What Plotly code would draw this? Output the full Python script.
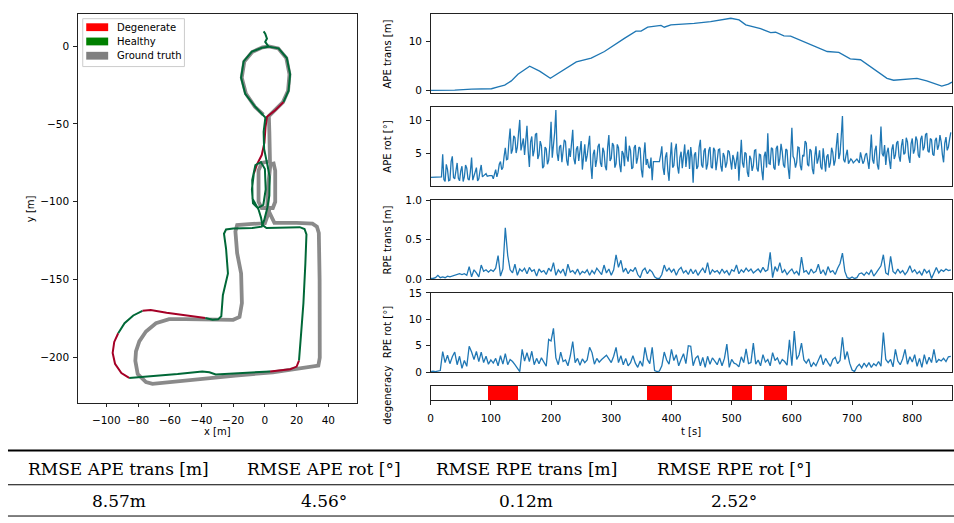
import plotly.graph_objects as go

W, H = 954, 523

# ---------------- trajectory in the x-y plane [m] ----------------
# ground truth route (starts at the neck below the upper loop)
gt_x = [-1.0, -6.3, -12.0, -14.6, -13.0, -8.0, -1.5, 2.5, 8.4, 13.5, 15.5, 14.6, 11.4,
        6.5, 2.5, 2.8, 3.0, 3.2,
        -2.0, -4.0, -4.0, -2.0, 5.0, 6.5, 6.5, 5.5, 3.5, 2.0, 1.5, 4.0, 6.0,
        20.0, 30.0, 32.8, 34.0, 34.5, 34.8, 34.6, 33.7,
        19.0, 5.0, -18.6, -39.5, -60.0, -70.9, -75.0, -80.2, -81.7, -81.3,
        -79.2, -75.0, -68.7, -60.4, -50.0, -35.0, -20.0, -16.0, -14.5, -15.0,
        -17.5, -18.6, -17.5, -10.0, 0.0, 2.0, 3.0]
gt_y = [-44.0, -39.0, -30.5, -20.3, -10.0, -3.8, -0.8, -0.2, -1.5, -7.7, -18.2, -28.7, -36.0,
        -41.0, -45.0, -55.0, -65.0, -74.0,
        -75.0, -80.0, -100.0, -104.0, -104.0, -100.0, -80.0, -75.5, -76.0, -90.0, -104.0, -110.0, -113.5,
        -113.6, -114.0, -116.0, -120.0, -150.0, -180.0, -200.0, -205.2,
        -207.4, -209.5, -211.6, -213.7, -215.8, -216.9, -215.8, -210.6, -202.2, -196.0,
        -189.6, -183.3, -178.0, -175.4, -175.4, -175.3, -175.8, -174.0, -165.0, -146.0,
        -133.0, -119.0, -115.0, -114.3, -113.8, -108.0, -104.0]

# estimated route; state of the segment leaving each vertex (H healthy, D degenerate)
est_x = [-0.8, 0.2, 1.3, 0.2, 2.3, 8.6, 13.8, 15.9, 14.9, 11.7, 6.5, 1.3, 0.4, -0.3,
         -2.0, -5.0, -7.0, -8.2, -7.5, -4.5, -1.0, 0.5, 0.0, -2.5, -6.0, -8.0, -7.8,
         -4.0, -2.5, -1.5, 1.0, 12.0, 22.0, 25.0, 26.2, 25.5, 24.3, 22.8, 21.5, 20.0,
         16.0, 10.0, 3.3, -10.0, -25.0, -31.0, -35.0, -39.5, -55.0, -70.0, -85.6,
         -90.5, -94.5, -96.0, -95.0, -92.5, -88.5, -83.0, -77.2, -72.0, -62.0, -50.0,
         -37.5, -33.0, -29.5, -27.5, -26.5, -23.3, -24.5, -25.8, -24.5, -20.0, -8.0,
         -2.0, -0.5, 1.5, 2.8, 3.0, 1.5, -0.5, -0.8, 0.3, -6.1, -12.4, -15.0, -13.4,
         -8.2, -1.9, 2.3]
est_y = [9.4, 8.0, 4.8, 2.7, -0.4, -1.5, -7.7, -18.2, -28.7, -36.0, -41.2, -45.4, -52.0,
         -62.0, -70.0, -76.0, -82.0, -92.0, -101.0, -104.0, -102.0, -92.0, -79.0, -74.5,
         -76.5, -86.0, -98.0, -105.0, -110.0, -115.0, -116.8, -116.6, -116.3, -117.5,
         -121.0, -140.0, -165.0, -185.0, -202.0, -205.8, -207.5, -208.3, -208.9, -209.5,
         -210.3, -210.9, -209.5, -208.9, -210.6, -212.0, -213.1, -210.0, -204.0, -197.0,
         -190.0, -184.4, -178.0, -173.0, -170.0, -169.5, -171.2, -172.8, -174.6, -175.8,
         -175.5, -173.5, -160.0, -146.0, -130.0, -120.5, -117.8, -117.2, -116.8, -116.0,
         -112.0, -104.0, -96.0, -84.0, -76.0, -66.0, -55.0, -46.0, -39.0, -30.7, -20.3,
         -9.8, -3.6, -1.1, -0.4]
est_state = ["H", "H", "H", "H", "H", "H", "H", "H", "H", "D", "D", "D", "D", "D",
             "D", "D", "H", "H", "H", "H", "H", "H", "H", "H", "H", "H", "H",
             "H", "H", "H", "H", "H", "H", "H", "H", "H", "H", "H", "D", "D",
             "D", "D", "H", "H", "H", "H", "H", "H", "H", "H", "D",
             "D", "D", "D", "D", "H", "H", "H", "D", "D", "D", "D",
             "H", "H", "H", "H", "H", "H", "H", "H", "H", "H", "H",
             "H", "H", "H", "H", "H", "H", "H", "H", "H", "H", "H", "H", "H",
             "H", "H", "H"]

legend_labels = ["Degenerate", "Healthy", "Ground truth"]
legend_colors = ["#ff0000", "#008000", "#808080"]

# ---------------- errors over time ----------------
ape_trans_t = [0, 40, 68, 101, 112, 123, 134, 145, 164.5, 181, 198.8, 217, 242, 266.7,
               288.7, 321.8, 341, 349.5, 360.5, 382.6, 388, 399, 437.8, 465, 482, 498.6,
               512.3, 523.4, 548, 564.8, 573, 586.8, 598, 620, 658.7, 678, 697, 714, 758,
               769, 807.8, 824, 849, 860, 866]
ape_trans = [0.0, 0.06, 0.26, 0.33, 0.73, 1.07, 1.94, 3.3, 4.96, 3.95, 2.48, 3.95, 5.85,
             6.65, 8.0, 10.7, 12.2, 12.2, 13.0, 13.37, 13.0, 13.5, 13.8, 14.17, 14.58,
             14.85, 14.5, 13.5, 12.7, 11.9, 11.96, 11.2, 11.15, 10.0, 8.0, 7.8, 6.5, 6.3,
             2.48, 2.08, 2.48, 1.94, 0.87, 1.27, 1.7]

ape_rot_dt = 2  # [s] between absolute rotation error samples
ape_rot = [
    1.43, 1.43, 1.43, 1.43, 1.43, 1.43, 1.43, 1.43, 1.43, 1.5, 4.9, 1.1, 0.8, 3.4, 2.6, 0.9, 1.0, 3.8, 4.6, 1.4,
    1.2, 2.9, 3.6, 1.3, 0.9, 2.4, 3.1, 0.8, 1.5, 3.3, 2.8, 1.2, 1.0, 2.3, 4.4, 1.0, 1.6, 2.5, 2.9, 0.9,
    1.2, 2.4, 3.3, 1.5, 1.7, 1.9, 2.0, 1.6, 1.7, 1.7, 1.7, 1.7, 1.2, 2.0, 2.6, 1.5, 2.2, 3.4, 3.8, 2.6,
    2.9, 4.6, 5.9, 4.1, 4.2, 6.8, 8.8, 5.0, 5.6, 7.7, 7.4, 5.1, 6.0, 8.1, 10.1, 5.5, 6.3, 7.3, 4.8, 6.5,
    9.2, 5.4, 3.0, 6.8, 7.6, 4.6, 5.5, 7.9, 8.1, 4.2, 4.8, 6.9, 6.2, 2.8, 3.1, 6.0, 5.7, 3.4, 4.0, 6.3,
    9.8, 4.4, 6.0, 8.2, 11.6, 5.1, 3.9, 6.0, 6.3, 3.7, 5.4, 7.1, 6.8, 4.0, 3.2, 5.8, 4.5, 6.2, 8.6, 4.2,
    3.4, 5.7, 6.1, 3.9, 5.5, 6.9, 2.6, 5.1, 6.4, 3.8, 4.7, 6.2, 7.7, 3.3, 1.2, 4.9, 5.6, 3.0, 4.1, 6.1,
    6.5, 3.6, 3.0, 5.9, 5.3, 3.1, 2.5, 6.0, 7.8, 3.9, 4.3, 6.6, 6.2, 2.9, 3.5, 6.4, 5.9, 3.3, 2.2, 5.4,
    5.0, 3.1, 7.6, 4.6, 3.8, 6.2, 5.5, 2.7, 2.9, 5.9, 6.3, 3.5, 4.4, 6.0, 5.8, 2.6, 1.4, 4.7, 6.7, 3.3,
    4.2, 3.0, 2.8, 4.4, 1.0, 3.8, 3.8, 3.8, 3.8, 3.8, 3.8, 4.8, 6.1, 2.9, 1.8, 4.5, 5.2, 2.4, 0.9, 4.3,
    6.7, 2.9, 3.2, 5.6, 6.5, 3.1, 2.0, 4.4, 5.3, 2.8, 4.4, 6.4, 3.0, 4.9, 5.6, 2.7, 6.0, 4.4, 0.6, 4.8,
    5.2, 2.7, 3.1, 6.0, 7.1, 3.3, 2.9, 5.4, 5.8, 2.6, 3.4, 5.5, 6.0, 3.0, 2.8, 5.9, 5.5, 2.5, 4.0, 5.6,
    5.7, 3.1, 2.3, 5.1, 4.6, 2.9, 3.6, 5.5, 5.3, 3.4, 2.6, 4.8, 4.1, 2.7, 3.9, 5.3, 0.9, 3.8, 7.1, 3.6,
    2.9, 5.2, 5.0, 2.2, 1.5, 4.7, 4.2, 2.4, 3.2, 5.5, 5.6, 2.8, 2.3, 4.9, 4.8, 2.5, 1.0, 4.6, 5.3, 2.9,
    8.1, 3.5, 3.4, 5.9, 5.7, 2.9, 2.6, 5.8, 6.2, 3.2, 4.3, 6.5, 5.3, 3.3, 2.9, 5.7, 5.5, 2.8, 1.2, 4.9,
    8.9, 4.6, 4.2, 2.9, 3.7, 6.0, 5.9, 3.2, 2.5, 4.8, 4.6, 6.9, 6.6, 3.4, 3.1, 5.7, 5.4, 2.7, 1.9, 4.5,
    6.1, 3.5, 4.2, 5.5, 3.0, 2.6, 5.8, 4.1, 2.3, 4.6, 4.9, 2.9, 3.6, 5.9, 5.2, 3.2, 4.0, 6.3, 8.1, 4.2,
    5.0, 7.6, 10.7, 4.1, 3.7, 4.8, 5.6, 3.5, 3.9, 4.2, 4.0, 3.6, 3.8, 4.0, 4.2, 3.9, 3.6, 5.2, 4.4, 3.5,
    3.9, 4.8, 5.1, 3.4, 2.7, 5.0, 7.9, 4.1, 3.5, 5.5, 6.2, 3.3, 2.6, 5.4, 9.1, 5.0, 4.6, 6.3, 3.3, 5.2,
    5.9, 4.0, 2.7, 5.6, 6.4, 4.2, 4.8, 6.6, 6.9, 4.6, 3.8, 6.2, 7.2, 4.9, 5.1, 7.4, 6.8, 4.5, 3.6, 6.5,
    7.3, 5.0, 5.6, 7.6, 7.0, 4.8, 4.4, 7.2, 7.7, 5.5, 6.0, 7.9, 8.1, 5.4, 5.2, 7.3, 7.1, 4.9, 4.7, 7.0,
    7.4, 5.6, 6.2, 7.8, 6.8, 4.9, 3.7, 6.6, 7.5, 5.5, 6.0, 7.2, 8.2]

rpe_dt = 4  # [s] between relative error samples
rpe_trans = [
    0.01, 0.01, 0.02, 0.05, 0.02, 0.03, 0.02, 0.04, 0.03, 0.04,
    0.05, 0.06, 0.07, 0.06, 0.07, 0.05, 0.16, 0.03, 0.12, 0.08,
    0.03, 0.18, 0.10, 0.12, 0.09, 0.12, 0.10, 0.14, 0.30, 0.04,
    0.13, 0.65, 0.30, 0.12, 0.08, 0.19, 0.05, 0.13, 0.10, 0.14,
    0.07, 0.15, 0.10, 0.12, 0.04, 0.13, 0.09, 0.11, 0.06, 0.14,
    0.10, 0.21, 0.05, 0.12, 0.08, 0.13, 0.04, 0.19, 0.09, 0.11,
    0.07, 0.13, 0.06, 0.10, 0.08, 0.12, 0.05, 0.11, 0.07, 0.14,
    0.10, 0.06, 0.18, 0.08, 0.13, 0.05, 0.12, 0.31, 0.15, 0.24,
    0.09, 0.14, 0.07, 0.12, 0.10, 0.15, 0.06, 0.02, 0.11, 0.14,
    0.07, 0.12, 0.09, 0.03, 0.01, 0.01, 0.06, 0.18, 0.10, 0.14,
    0.09, 0.13, 0.05, 0.12, 0.15, 0.08, 0.11, 0.06, 0.13, 0.07,
    0.12, 0.05, 0.10, 0.14, 0.08, 0.21, 0.06, 0.12, 0.09, 0.11,
    0.07, 0.13, 0.08, 0.11, 0.05, 0.12, 0.10, 0.18, 0.07, 0.12,
    0.09, 0.14, 0.10, 0.13, 0.08, 0.11, 0.13, 0.09, 0.15, 0.10,
    0.12, 0.34, 0.02, 0.16, 0.10, 0.21, 0.08, 0.12, 0.06, 0.10,
    0.13, 0.07, 0.10, 0.05, 0.28, 0.09, 0.11, 0.06, 0.13, 0.08,
    0.10, 0.19, 0.07, 0.12, 0.05, 0.16, 0.09, 0.11, 0.06, 0.14,
    0.20, 0.33, 0.10, 0.02, 0.01, 0.03, 0.01, 0.02, 0.07, 0.08,
    0.05, 0.09, 0.06, 0.12, 0.04, 0.08, 0.13, 0.17, 0.31, 0.08,
    0.06, 0.29, 0.10, 0.07, 0.13, 0.08, 0.11, 0.06, 0.10, 0.17,
    0.09, 0.12, 0.07, 0.10, 0.05, 0.13, 0.08, 0.11, 0.01, 0.09,
    0.15, 0.08, 0.12, 0.10, 0.13, 0.11, 0.12]

rpe_rot = [
    0.1, 0.2, 0.1, 0.2, 0.3, 3.9, 1.8, 3.2, 1.6, 2.9,
    3.8, 1.4, 3.0, 0.7, 2.2, 1.1, 4.9, 3.8, 2.4, 3.9,
    2.0, 3.8, 1.8, 3.0, 1.5, 2.3, 1.7, 2.6, 1.2, 3.1,
    1.5, 3.5, 1.4, 2.4, 2.0, 1.4, 0.7, 0.1, 4.3, 2.1,
    3.7, 2.0, 3.95, 1.4, 2.6, 1.6, 2.7, 2.0, 1.1, 6.2,
    5.9, 8.3, 2.7, 1.4, 3.8, 2.0, 2.3, 1.2, 3.1, 5.8,
    1.8, 2.6, 1.3, 2.5, 1.8, 2.3, 4.7, 3.7, 1.5, 2.6,
    1.9, 2.4, 2.8, 3.2, 2.5, 1.8, 3.0, 4.7, 1.8, 3.1,
    1.4, 2.6, 1.2, 1.8, 3.1, 1.7, 0.9, 2.1, 1.1, 4.7,
    2.4, 1.6, 4.7, 0.3, 0.1, 0.2, 1.2, 3.8, 2.3, 1.5,
    4.3, 2.2, 3.3, 1.2, 2.4, 3.5, 1.6, 5.0, 4.9, 1.2,
    2.6, 3.1, 1.2, 2.8, 0.9, 3.0, 1.5, 2.7, 2.1, 1.4,
    2.7, 1.2, 2.6, 5.3, 0.9, 2.4, 1.7, 1.5, 1.0, 2.9,
    1.8, 4.4, 1.6, 1.8, 5.5, 1.5, 2.3, 1.2, 3.3, 1.9,
    2.4, 1.2, 3.7, 2.2, 2.7, 1.5, 2.4, 2.0, 1.3, 6.1,
    1.2, 7.8, 2.4, 3.3, 5.5, 2.3, 1.7, 2.5, 1.0, 1.8,
    1.2, 2.1, 3.3, 1.4, 2.6, 1.8, 1.1, 2.4, 2.8, 1.6,
    2.2, 6.6, 2.4, 3.9, 1.7, 0.4, 0.1, 1.0, 1.5, 0.8,
    1.7, 1.0, 1.8, 0.9, 1.6, 1.2, 2.0, 1.1, 7.5, 2.4,
    1.8, 2.4, 1.0, 4.3, 2.1, 1.4, 2.5, 4.3, 1.5, 2.9,
    1.9, 3.3, 1.1, 2.6, 0.9, 3.3, 1.5, 2.8, 1.8, 4.3,
    1.8, 2.4, 2.1, 2.6, 2.0, 2.9, 3.0]

degen_start = [94, 359, 500, 553]
degen_end = [144, 400, 533, 592]

# ---------------- summary table ----------------
rmse_headers = ["RMSE APE trans [m]", "RMSE APE rot [°]", "RMSE RPE trans [m]", "RMSE RPE rot [°]"]
rmse_values = ["8.57m", "4.56°", "0.12m", "2.52°"]

# ---------------- styling ----------------
BLUE = "#1f77b4"
HEALTHY_LINE = "#006837"
DEGEN_LINE = "#a50026"
SANS = "DejaVu Sans"
SERIF = "DejaVu Serif"
AX = "#222222"


def px(x):
    return x / W


def py(y):
    return 1 - y / H


fig = go.Figure()

# ground truth, thick grey
fig.add_trace(go.Scatter(x=gt_x, y=gt_y, mode="lines", xaxis="x", yaxis="y",
                         line=dict(color="#8a8a8a", width=3.8), hoverinfo="skip",
                         showlegend=False))

# estimate, coloured by health state of each stretch
seg_states = est_state[:len(est_x) - 1]
start = 0
runs = []
for i in range(1, len(seg_states)):
    if seg_states[i] != seg_states[start]:
        runs.append((start, i, seg_states[start]))
        start = i
runs.append((start, len(est_x) - 1, seg_states[start]))
for a, b, s in runs:
    fig.add_trace(go.Scatter(x=est_x[a:b + 1], y=est_y[a:b + 1], mode="lines",
                             xaxis="x", yaxis="y",
                             line=dict(color=DEGEN_LINE if s == "D" else HEALTHY_LINE, width=2),
                             hoverinfo="skip", showlegend=False))

t_ape_rot = [i * ape_rot_dt for i in range(len(ape_rot))]
t_rpe = [i * rpe_dt for i in range(len(rpe_trans))]

fig.add_trace(go.Scatter(x=ape_trans_t, y=ape_trans, mode="lines", xaxis="x2", yaxis="y2",
                         line=dict(color=BLUE, width=1.3), showlegend=False))
fig.add_trace(go.Scatter(x=t_ape_rot, y=ape_rot, mode="lines", xaxis="x3", yaxis="y3",
                         line=dict(color=BLUE, width=1.3), showlegend=False))
fig.add_trace(go.Scatter(x=t_rpe, y=rpe_trans, mode="lines",
                         xaxis="x4", yaxis="y4", line=dict(color=BLUE, width=1.3),
                         showlegend=False))
fig.add_trace(go.Scatter(x=t_rpe[:len(rpe_rot)], y=rpe_rot, mode="lines",
                         xaxis="x5", yaxis="y5", line=dict(color=BLUE, width=1.3),
                         showlegend=False))

# degenerate intervals as horizontal bars
fig.add_trace(go.Bar(y=[0] * len(degen_start), x=[e - s for s, e in zip(degen_start, degen_end)],
                     base=degen_start, orientation="h", width=1, xaxis="x6", yaxis="y6",
                     marker=dict(color="#ff0000", line=dict(width=0)), showlegend=False))

axis_common = dict(showgrid=False, zeroline=False, showline=True, mirror=True,
                   linecolor=AX, linewidth=1, ticks="outside", ticklen=3.5, tickwidth=1,
                   tickcolor=AX, tickfont=dict(family=SANS, size=10.5, color="#000"))

right_x = [px(429), px(952)]
panels = {
    2: (8.3, 89.3, [-0.6, 15.7], dict(tickvals=[0, 10])),
    3: (103.7, 184.7, [0.05, 12.0], dict(tickvals=[5, 10])),
    4: (198.7, 279.7, [0, 1], dict(tickvals=[0, 0.5, 1.0], ticktext=["0.0", "0.5", "1.0"])),
    5: (293.7, 374.7, [0, 15], dict(tickvals=[0, 5, 10, 15])),
    6: (388.7, 403.7, [-0.5, 0.5], dict(showticklabels=False, ticks="")),
}

layout = dict(
    width=W, height=H, margin=dict(l=0, r=0, t=0, b=0),
    paper_bgcolor="white", plot_bgcolor="white", showlegend=False, bargap=0,
    xaxis=dict(axis_common, domain=[px(75), px(355)], range=[-118, 58], dtick=20,
               tick0=0, anchor="y", ticklabelstandoff=4),
    yaxis=dict(axis_common, domain=[py(406), py(8)], range=[-229, 20.7], dtick=50,
               tick0=0, anchor="x", ticklabelstandoff=2),
)
for k, (top, bot, rng, extra) in panels.items():
    xa = dict(axis_common, domain=right_x, range=[0, 866], anchor=f"y{k}")
    if k == 6:
        xa.update(dtick=100, tick0=0, ticklabelstandoff=4)
    else:
        xa.update(showticklabels=False, ticks="")
    layout[f"xaxis{k}"] = xa
    ya = dict(axis_common, domain=[py(bot), py(top)], range=rng, anchor=f"x{k}",
              ticklabelstandoff=2)
    ya.update(extra)
    layout[f"yaxis{k}"] = ya

fig.update_layout(**layout)

annotations = []
lab_font = dict(family=SANS, size=10, color="#000")


def label(text, x, y, angle=0, xanchor="center", font=lab_font):
    return dict(text=text, x=px(x), y=py(y), xref="paper", yref="paper",
                xanchor=xanchor, yanchor="middle", showarrow=False, font=font,
                textangle=angle)


# axis titles
annotations.append(label("x [m]", 215, 436))
annotations.append(label("y [m]", 27, 207, angle=-90))
annotations.append(label("t [s]", 690, 436))
for txt, yc in [("APE trans [m]", 48.8), ("APE rot [°]", 144.2), ("RPE trans [m]", 239.2),
                ("RPE rot [°]", 334.2), ("degeneracy", 398)]:
    annotations.append(label(txt, 386, yc, angle=-90))

shapes = []
# legend of the trajectory view
shapes.append(dict(type="rect", xref="paper", yref="paper", x0=px(80), x1=px(182),
                   y0=py(62), y1=py(13), line=dict(color="#cccccc", width=1),
                   fillcolor="rgba(255,255,255,0.8)", layer="above"))
for i, (lab, col) in enumerate(zip(legend_labels, legend_colors)):
    yc = 21.7 + 14.6 * i
    shapes.append(dict(type="rect", xref="paper", yref="paper", x0=px(83.5), x1=px(105.5),
                       y0=py(yc + 4), y1=py(yc - 4), line=dict(width=0), fillcolor=col,
                       layer="above"))
    annotations.append(label(lab, 112.5, yc, xanchor="left"))

# summary table
for yline, lw in [(455, 2), (490, 1.2), (522, 1)]:
    shapes.append(dict(type="line", xref="paper", yref="paper", x0=px(5), x1=px(954),
                       y0=py(yline), y1=py(yline), line=dict(color="#000", width=lw)))
col_centers = [116, 322, 525, 733]
tab_font = dict(family=SERIF, size=17, color="#000")
for xc, head, val in zip(col_centers, rmse_headers, rmse_values):
    annotations.append(label(head, xc, 474, font=tab_font))
    annotations.append(label(val, xc, 507, font=tab_font))

fig.update_layout(annotations=annotations, shapes=shapes)
fig.write_html("out.html")
